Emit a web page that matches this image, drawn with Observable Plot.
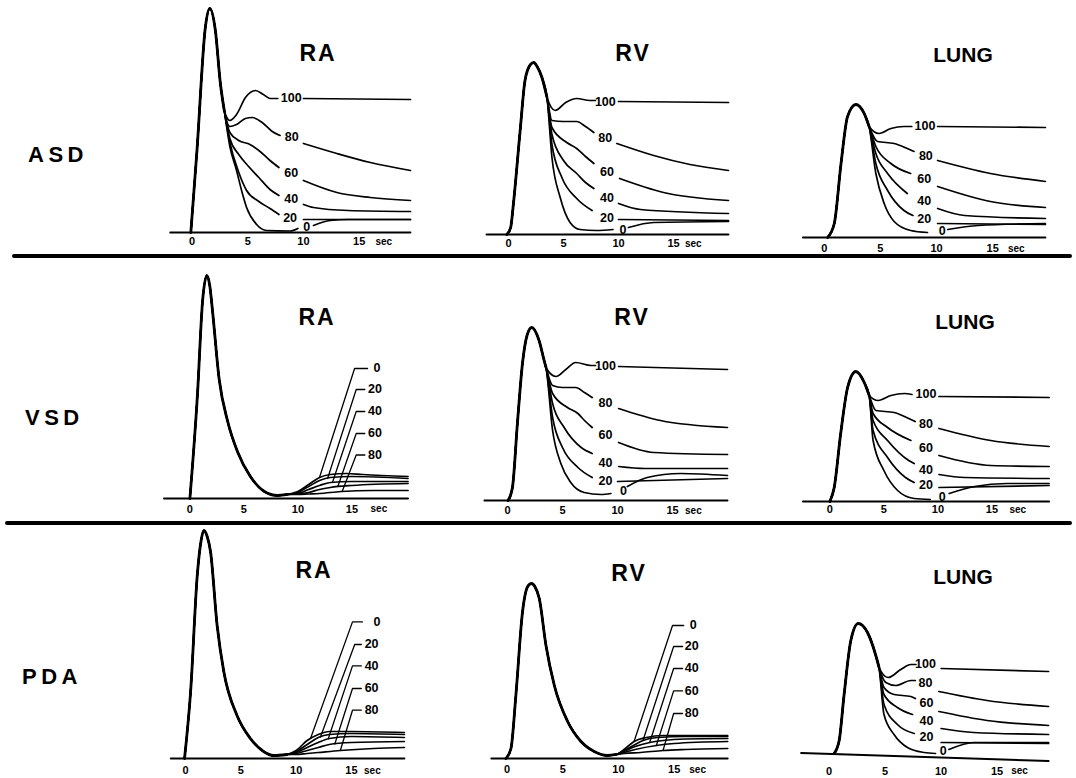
<!DOCTYPE html>
<html><head><meta charset="utf-8">
<script src="https://cdn.jsdelivr.net/npm/d3@7"></script>
<script src="https://cdn.jsdelivr.net/npm/@observablehq/plot@0.6"></script>
<style>
body{margin:0;background:#fff;}
#chart{position:relative;width:1076px;height:778px;overflow:hidden;background:#fff;font-family:"Liberation Sans",Arial,sans-serif;color:#000;}
.title{position:absolute;font-weight:bold;font-size:23px;letter-spacing:2px;transform:translate(-50%,-50%);white-space:nowrap;}
.rowlab{position:absolute;font-weight:bold;font-size:22px;letter-spacing:4.5px;transform:translateY(-50%);white-space:nowrap;}
.divider{position:absolute;height:4px;background:#000;border-radius:3px;}
.panel{position:absolute;}
</style></head><body><div id="chart"></div>
<script>
// ---------- data ----------
const rowNames = ["ASD", "VSD", "PDA"];
const siteNames = ["RA", "RV", "LUNG"];
const xTicks = [0, 5, 10, 15];
const shuntHigh = ["100", "80", "60", "40", "20", "0"];
const shuntLow = ["0", "20", "40", "60", "80"];

// ASD – RA
const asdRaRise = [[-0.1,0],[0.45,82],[1.2,205],[1.6,224],[2.1,202],[2.55,149],[2.9,122]];
const asdRaTails = [
  [[3.4,112],[4.0,118],[4.8,135],[5.7,142],[6.4,138],[7.0,134],[7.7,134],[8.9,null],[10.0,134],[19.6,133]],
  [[3.4,106],[4.0,108],[4.8,114],[5.4,115],[6.3,110],[7.2,101],[7.9,97],[8.9,null],[10.0,89],[13.0,79],[16.0,70],[19.6,62]],
  [[3.4,100],[4.2,92],[5.2,88],[6.0,82],[7.0,72],[7.8,65],[8.9,null],[10.0,52],[13.0,40],[16.0,35],[19.6,32]],
  [[3.4,94],[4.2,78],[5.0,67],[6.0,55],[7.0,43],[7.8,37],[8.9,null],[10.0,28],[10.9,25],[14.0,22],[19.6,21]],
  [[3.4,90],[4.2,60],[4.9,42],[6.0,31],[7.0,24],[7.8,18],[8.9,null],[10.0,13],[19.6,13]],
  [[3.4,86],[4.0,62],[4.5,40],[4.9,25],[5.8,8],[6.7,2],[8.8,1.5],[9.5,4],[10.3,null],[10.9,7],[12.4,12],[14.0,13],[19.6,13]]
];
const asdRaLabels = [[8.9,134],[8.95,95],[8.9,59],[8.9,33],[8.8,14],[10.3,5]];

// ASD – RV
const asdRvRise = [[-0.15,0],[0.2,7],[0.45,31],[1.06,104],[1.5,154],[2.0,170],[2.3,172],[2.6,168],[3.04,157],[3.5,137]];
const asdRvTails = [
  [[4.25,124],[5.2,132],[6.2,136],[7.4,134],[7.9,134],[8.8,null],[10.0,133],[20.0,132]],
  [[3.95,114],[5.0,113],[6.2,113],[7.0,108],[7.76,102],[8.8,null],[9.85,91],[13.2,79],[16.5,70],[20.0,64]],
  [[3.95,107],[5.3,92],[6.2,86],[7.0,78],[7.76,71],[8.95,null],[10.1,56],[14.1,42],[20.0,34]],
  [[3.95,100],[5.0,74],[6.2,61],[7.0,52],[7.76,46],[8.95,null],[10.0,31],[12.0,25],[20.0,21]],
  [[3.95,90],[4.85,57],[6.2,36],[7.6,24],[8.95,null],[10.0,15],[20.0,14]],
  [[3.95,77],[4.7,37],[5.6,12],[6.5,5],[8.0,4],[9.5,5],[10.4,null],[10.9,7],[13.2,12],[20.0,13]]
];
const asdRvLabels = [[8.8,133],[8.8,97],[8.95,63],[8.95,37],[8.95,17],[10.4,5]];

// ASD – LUNG
const asdLungRise = [[0.3,0],[0.9,14],[1.5,74],[2.08,121],[2.82,133],[3.56,124],[4.0,111]];
const asdLungTails = [
  [[4.9,104],[5.94,109],[7.1,111],[7.8,111],[8.97,null],[10.1,111],[19.7,110]],
  [[4.75,96],[6.23,94],[7.4,89],[8.0,86],[9.05,null],[10.1,77],[14.8,64],[19.7,56]],
  [[4.6,91],[5.94,74],[7.7,64],[8.9,null],[10.1,51],[14.8,36],[19.7,30]],
  [[4.6,84],[5.65,64],[7.4,44],[8.9,null],[10.1,29],[12.5,22],[19.7,19]],
  [[4.6,74],[5.65,47],[7.1,27],[7.9,22],[8.9,null],[10.1,14],[19.7,13]],
  [[4.6,64],[5.34,34],[6.23,16],[7.7,7],[9.2,5],[10.5,null],[11.0,8],[13.7,12],[19.7,14]]
];
const asdLungLabels = [[8.97,111],[9.05,81],[8.9,58],[8.9,36],[8.9,18],[10.5,6]];

// VSD – RA
const vsdRaRise = [[0,0],[0.7,104],[1.17,197],[1.57,223],[1.85,212],[2.1,187],[2.7,120],[3.5,77],[4.4,47],[5.6,22],[6.9,7],[8.1,3],[9.0,4]];
const vsdRaTails = [
  [[10,7],[11,14],[12,21],[13,24],[14.5,25],[16,24],[20.2,22]],
  [[10,6],[11,12],[12,18],[13,21],[15,22],[20.2,20]],
  [[10,5],[11,9],[12,13],[13,16],[15,17],[20.2,17]],
  [[10,4.5],[11,6],[12,9],[13,11],[15,13],[20.2,15]],
  [[10,4],[11,4.5],[12,5],[14,7],[17,8],[20.2,8]]
];
// [attach t, attach v, elbow t, end t, label v, text t]
const vsdRaLeaders = [[12.0,21,15.25,16.45,130,17.0],[12.75,20,15.4,16.2,109,16.5],[13.2,16,15.4,16.2,87,16.5],[13.7,12,15.4,16.2,65,16.5],[14.1,7,15.4,16.2,43.5,16.5]];

// VSD – RV
const vsdRvRise = [[0.05,0],[0.45,13],[0.9,77],[1.36,137],[1.8,166],[2.2,173],[2.87,160],[3.33,140],[3.5,133]];
const vsdRvTails = [
  [[4.4,124],[5.3,131],[6.2,138],[7.6,135],[8.0,135],[8.9,null],[10.1,134],[20.0,131]],
  [[4.1,115],[5.0,113],[6.2,113],[7.0,108],[7.7,103],[8.9,null],[10.1,92],[13.9,80],[20.0,73]],
  [[4.1,107],[5.45,93],[6.4,87],[7.0,80],[7.7,73],[8.9,null],[10.1,58],[13.3,48],[20.0,46]],
  [[4.1,97],[5.15,73],[6.7,53],[7.7,47],[8.9,null],[10.1,34],[12.5,32],[20.0,32]],
  [[4.1,83],[5.0,53],[6.4,33],[7.7,23],[8.9,null],[10.0,19],[20.0,22]],
  [[4.1,70],[4.85,37],[5.75,18],[6.97,8],[8.5,6],[9.4,7],[10.55,null],[10.9,14],[12.7,23],[15.75,27],[20.0,25]]
];
const vsdRvLabels = [[8.9,135],[8.9,98],[8.9,66],[8.9,38],[8.9,20],[10.55,10]];

// VSD – LUNG
const vsdLungRise = [[0,0],[0.4,14],[1.0,68],[1.64,114],[2.4,130],[3.18,119],[3.64,106]];
const vsdLungTails = [
  [[4.47,101],[5.65,106],[6.9,108],[7.6,107],[8.9,null],[10.1,105],[20.3,104]],
  [[4.26,91],[5.95,89],[7.3,83],[7.9,80],[8.9,null],[10.1,73],[14.9,61],[20.3,55]],
  [[4.0,88],[5.34,74],[7.5,61],[8.9,null],[10.1,46],[14.9,36],[20.3,35]],
  [[4.0,81],[5.34,61],[7.3,41],[7.8,38],[8.9,null],[10.1,27],[12.5,24],[20.3,23]],
  [[4.0,71],[5.34,44],[7.0,24],[7.8,19],[8.9,null],[10.1,14],[20.3,16]],
  [[4.0,61],[5.0,31],[6.27,11],[7.8,3],[9.3,2],[10.4,null],[11.05,8],[13.4,15],[16.4,18],[20.3,18]]
];
const vsdLungLabels = [[8.9,107],[8.9,77],[8.9,53],[8.9,31],[8.9,16],[10.4,4]];

// PDA – RA
const pdaRaRise = [[-0.1,0],[0.45,67],[1.05,183],[1.4,218],[1.65,228],[1.95,222],[2.25,207],[2.85,133],[3.45,87],[4.65,43],[5.86,20],[7.05,7],[7.96,3],[9.16,4]];
const pdaRaTails = [
  [[10,8],[11,18],[12,24],[13,27],[15,27],[19.8,26]],
  [[10,7],[11,14],[12,21],[13,24],[15,25],[19.8,24]],
  [[10,6],[11,11],[12,16],[13,20],[15,22],[19.8,21]],
  [[10,5],[11,8],[12,11],[13,14],[15,16],[19.8,17]],
  [[10,4],[11,5],[12,6],[14,8],[17,10],[19.8,11]]
];
const pdaRaLeaders = [[11.3,20,15.1,16.0,136.6,17.0],[12.2,21.5,15.3,15.9,114,16.2],[12.9,19.5,15.1,15.9,92.6,16.2],[13.5,14.5,15.1,15.9,70,16.2],[14.0,8,15.1,15.9,48.3,16.2]];

// PDA – RV
const pdaRvRise = [[-0.1,0],[0.36,10],[0.8,63],[1.4,147],[1.86,172],[2.2,175],[2.5,172],[2.9,160],[3.5,113],[4.25,73],[5.44,37],[6.64,17],[7.83,7],[9.0,3],[9.8,4]];
const pdaRvTails = [
  [[10.5,9],[11.4,17],[12.5,21],[14,23],[16,23],[19.8,23]],
  [[10.5,8],[11.5,14],[12.2,18],[13.5,21],[16,22],[19.8,22]],
  [[10.5,7],[11.5,12],[12.8,16],[14,18],[16,19.5],[19.8,20]],
  [[10.5,6],[11.5,9],[13.4,13],[15,15],[19.8,17]],
  [[10.5,5],[12,6],[14,8],[16,9],[19.8,10]]
];
const pdaRvLeaders = [[11.4,17,14.85,15.85,133,16.4],[12.2,18,14.95,15.75,112,15.95],[12.8,16,14.95,15.75,90,15.95],[13.4,13,14.95,15.75,67.6,15.95],[14.0,8,14.95,15.75,45,15.95]];

// PDA – LUNG
const pdaLungRise = [[0.45,0],[0.9,13],[1.34,59],[1.94,113],[2.6,130],[3.43,121],[4.17,98],[4.46,86]];
const pdaLungTails = [
  [[5.27,76],[6.4,84],[7.3,89],[7.75,89],[8.6,null],[10.0,85],[19.6,82]],
  [[5.06,71],[5.95,68],[7.3,73],[7.7,73],[8.6,null],[9.8,62],[14.1,53],[19.6,47]],
  [[4.9,66],[5.8,59],[7.3,57],[7.7,55],[8.7,null],[9.8,42],[14.1,33],[19.6,28]],
  [[4.9,59],[6.1,46],[7.45,39],[8.7,null],[10.0,25],[12.9,21],[19.6,19]],
  [[4.9,49],[6.1,29],[7.6,20],[8.7,null],[10.0,11],[19.6,10]],
  [[4.9,39],[5.8,19],[7.0,6],[8.5,1],[9.5,0],[10.2,null],[10.7,4],[12.95,11],[19.6,11]]
];
const pdaLungLabels = [[8.6,89],[8.6,70],[8.7,50],[8.7,32],[8.7,16],[10.2,2]];

// baselines (time axis lines) [t, v]
const axisLines = [
  [[-1.95,0],[19.6,0]], [[-2.0,0],[20.0,0]], [[-1.9,0],[19.7,0]],
  [[-2.4,0],[20.2,0]], [[-2.1,0],[20.0,0]], [[-2.5,0],[20.3,0]],
  [[-1.35,0],[19.8,0]], [[-1.4,0],[19.8,0]], [[-2.5,0.5],[19.6,-7.5]]
];
const secAt = [17.2, 16.8, 17.1, 17.5, 16.9, 17.4, 16.9, 17.1, 17.0];

// ---------- layout (page pixels) ----------
const layout = [
  {x0:191.7, s:11.15, base:232,   off:9,    tx:318, ty:53},
  {x0:508.3, s:11.0,  base:234,   off:9,    tx:633, ty:53},
  {x0:823.3, s:11.23, base:237.3, off:11,   tx:963, ty:55},
  {x0:189,   s:10.8,  base:497.5, off:10.5, tx:317, ty:317},
  {x0:506.7, s:11.0,  base:500,   off:10,   tx:632, ty:317},
  {x0:829,   s:10.8,  base:501,   off:8,    tx:965, ty:322},
  {x0:185,   s:11.05, base:758.3, off:12,   tx:314, ty:570},
  {x0:506,   s:11.15, base:758.3, off:11,   tx:629, ty:573},
  {x0:828.3, s:11.2,  base:752.7, off:17.5, tx:963, ty:577}
];
const panelData = [
  {rise:asdRaRise, tails:asdRaTails, labels:asdRaLabels},
  {rise:asdRvRise, tails:asdRvTails, labels:asdRvLabels},
  {rise:asdLungRise, tails:asdLungTails, labels:asdLungLabels},
  {rise:vsdRaRise, tails:vsdRaTails, leaders:vsdRaLeaders},
  {rise:vsdRvRise, tails:vsdRvTails, labels:vsdRvLabels},
  {rise:vsdLungRise, tails:vsdLungTails, labels:vsdLungLabels},
  {rise:pdaRaRise, tails:pdaRaTails, leaders:pdaRaLeaders},
  {rise:pdaRvRise, tails:pdaRvTails, leaders:pdaRvLeaders},
  {rise:pdaLungRise, tails:pdaLungTails, labels:pdaLungLabels}
];
const rowLabelPos = [[28,155],[25,418],[22,677]];
const dividers = [[12,256],[5,523]];

// ---------- render ----------
const chart = document.getElementById("chart");
const T0 = -3, T1 = 21, VMAX = 250, MB = 30;

panelData.forEach((pd, i) => {
  const L = layout[i];
  const width = (T1 - T0) * L.s;
  const curves = pd.tails.flatMap((tail, k) =>
    pd.rise.concat(tail).map(([t, v]) => ({t, v, k})));
  const marks = [
    Plot.line(axisLines[i], {x: d => d[0], y: d => d[1], stroke: "#000", strokeWidth: 1.9}),
    Plot.line(curves, {x: "t", y: "v", z: "k", curve: "monotone-x", stroke: "#000", strokeWidth: 1.7}),
    Plot.line(pd.rise, {x: d => d[0], y: d => d[1], curve: "monotone-x", stroke: "#000", strokeWidth: 2.8}),
    Plot.axisX({ticks: xTicks, tickSize: 0, tickPadding: L.off - 4, fontSize: 11, fontWeight: "bold", label: null, tickFormat: d => String(d)}),
    Plot.text([secAt[i]], {x: d => d, y: 0, dy: L.off, text: () => "sec", fontSize: 10, fontWeight: "bold"})
  ];
  if (pd.labels) {
    marks.push(Plot.text(pd.labels, {x: d => d[0], y: d => d[1], text: (d, j) => shuntHigh[j],
      fontSize: 12.5, fontWeight: "bold", textAnchor: "middle"}));
  }
  if (pd.leaders) {
    const leaderPts = pd.leaders.flatMap((d, k) => [
      {t: d[0], v: d[1], k}, {t: d[2], v: d[4], k}, {t: d[3], v: d[4], k}]);
    marks.push(Plot.line(leaderPts, {x: "t", y: "v", z: "k", stroke: "#000", strokeWidth: 1.3}));
    marks.push(Plot.text(pd.leaders, {x: d => d[5], y: d => d[4], text: (d, j) => shuntLow[j],
      fontSize: 12.5, fontWeight: "bold", textAnchor: "start"}));
  }
  const svg = Plot.plot({
    width, height: VMAX + MB,
    marginLeft: 0, marginRight: 0, marginTop: 0, marginBottom: MB,
    x: {domain: [T0, T1], axis: null},
    y: {domain: [0, VMAX], axis: null},
    style: {fontFamily: "'Liberation Sans', Arial, sans-serif", background: "transparent", overflow: "visible", maxWidth: "none", color: "#000"},
    marks
  });
  const div = document.createElement("div");
  div.className = "panel";
  div.style.left = (L.x0 + T0 * L.s) + "px";
  div.style.top = (L.base - VMAX) + "px";
  div.style.width = width + "px";
  div.appendChild(svg);
  chart.appendChild(div);

  const t = document.createElement("div");
  t.className = "title";
  t.textContent = siteNames[i % 3];
  t.style.left = L.tx + "px";
  t.style.top = L.ty + "px";
  if (siteNames[i % 3] === "LUNG") { t.style.letterSpacing = "0px"; t.style.fontSize = "21px"; }
  chart.appendChild(t);
});

rowNames.forEach((name, r) => {
  const d = document.createElement("div");
  d.className = "rowlab";
  d.textContent = name;
  d.style.left = rowLabelPos[r][0] + "px";
  d.style.top = rowLabelPos[r][1] + "px";
  chart.appendChild(d);
});
dividers.forEach(([x, y]) => {
  const d = document.createElement("div");
  d.className = "divider";
  d.style.left = x + "px";
  d.style.top = (y - 2) + "px";
  d.style.width = (1072 - x) + "px";
  chart.appendChild(d);
});
</script></body></html>
